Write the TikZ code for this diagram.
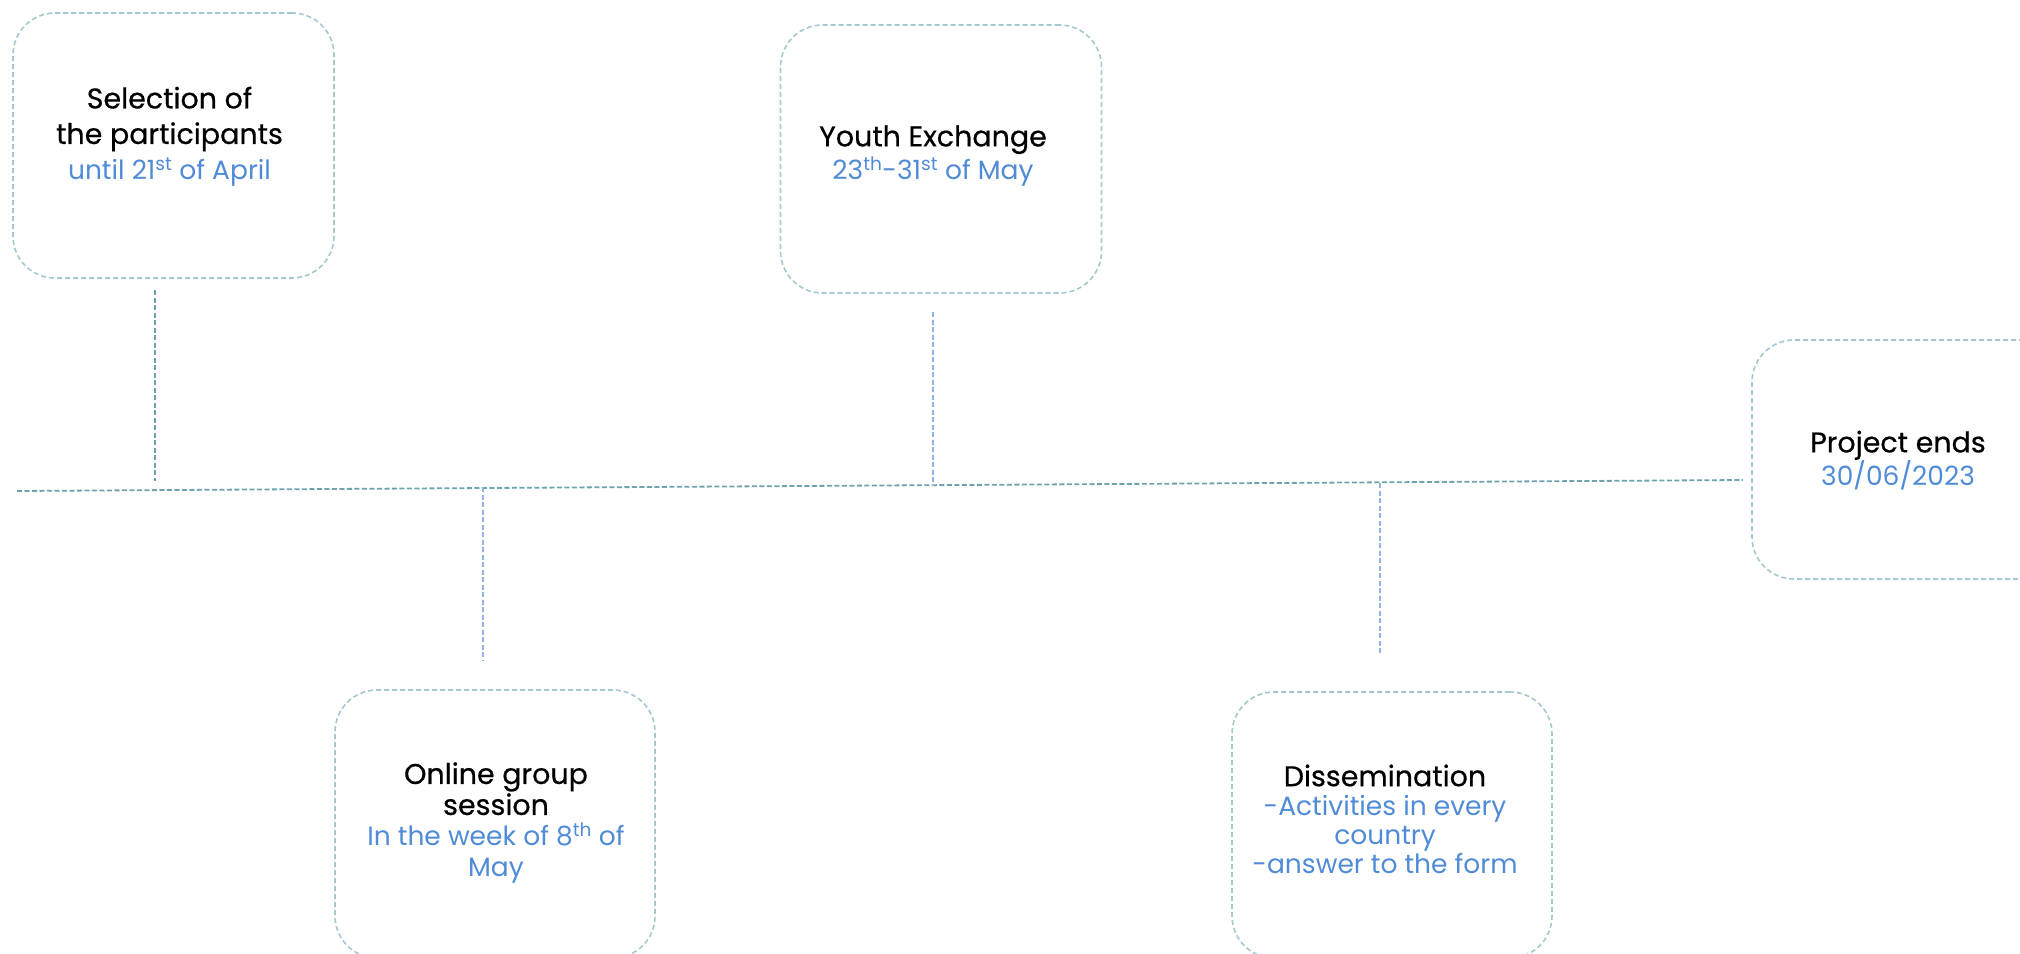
\documentclass[tikz,border=0pt]{standalone}
\usepackage{fontspec}
\setmainfont{Poppins}
\newfontfamily\titlefont[FakeBold=0.5]{Poppins}
\definecolor{boxline}{HTML}{A3C8CF}
\definecolor{tline}{HTML}{6FA3AB}
\definecolor{vblue}{HTML}{8DB4E2}
\definecolor{txtblue}{HTML}{4F8BD6}
\newcommand{\ttl}[1]{{\titlefont\fontsize{28.5}{20}\selectfont #1}}
\newcommand{\bl}[1]{{\color{txtblue}#1}}
\usetikzlibrary{calc}
\begin{document}
\begin{tikzpicture}[x=1pt,y=-1pt,
  evbox/.style={draw=boxline, line width=1.6pt, dash pattern=on 5pt off 3pt, rounded corners=42pt,
    minimum width=321pt, minimum height=266pt, inner sep=0pt},
  evtext/.style={align=center, inner sep=0pt, font=\fontsize{26.5}{#1}\selectfont},
  evtext/.default=35,
  tl/.style={draw=tline, line width=1.8pt, dash pattern=on 5pt off 2.5pt},
  vl/.style={line width=1.6pt, dash pattern=on 5pt off 2.5pt}]
\useasboundingbox (0,0) rectangle (2020,953);
\clip (0,0) rectangle (2020,953);
\node[evbox, minimum height=265pt] (sel) at (173.5,145.5) {};
\node[evtext=35.5] (selt) at ($(sel.center)+(-4,-9)$) {\ttl{Selection of}\\\ttl{the participants}\\\bl{until 21\textsuperscript{st} of April}};
\node[evbox, minimum height=268pt] (yex) at (941,159) {};
\node[evtext=33.5] (yext) at ($(yex.center)+(-8,-3)$) {\ttl{Youth Exchange}\\\bl{23\textsuperscript{th}-31\textsuperscript{st} of May}};
\node[evbox, minimum width=322pt, minimum height=239pt] (pend) at (1913,459.5) {};
\node[evtext=31] (pendt) at ($(pend.center)+(-15,1)$) {\ttl{Project ends}\\\bl{30/06/2023}};
\node[evbox, minimum width=320pt, minimum height=268pt] (onl) at (495,824) {};
\node[evtext=31] (onlt) at ($(onl.center)+(1,-1)$) {\ttl{Online group}\\\ttl{session}\\\bl{In the week of 8\textsuperscript{th} of}\\\bl{May}};
\node[evbox, minimum width=320pt, minimum height=266pt] (dis) at (1392,825) {};
\node[evtext=29] (dist) at ($(dis.center)+(-7,-6)$) {\ttl{Dissemination}\\\bl{-Activities in every}\\\bl{country}\\\bl{-answer to the form}};
\coordinate (tstart) at (17,491);
\coordinate (tend) at (1743,480);
\draw[tl] (tstart) -- (tend);
\coordinate (selA) at (155,290);
\coordinate (selB) at (155,481);
\draw[vl, draw=tline] (selA) -- (selB);
\coordinate (yexA) at (933,312);
\coordinate (yexB) at (933,486);
\draw[vl, draw=vblue] (yexA) -- (yexB);
\coordinate (onlA) at (483,487);
\coordinate (onlB) at (483,661);
\draw[vl, draw=vblue] (onlA) -- (onlB);
\coordinate (disA) at (1380,483);
\coordinate (disB) at (1380,653);
\draw[vl, draw=vblue] (disA) -- (disB);
\end{tikzpicture}
\end{document}
